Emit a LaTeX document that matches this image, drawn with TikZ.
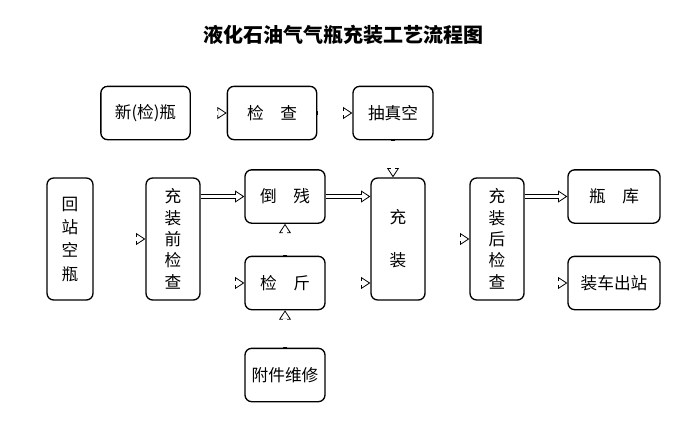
\documentclass[tikz,border=0pt]{standalone}
\usepackage{fontspec}
\newfontfamily\cjk{Noto Sans CJK SC}
\usetikzlibrary{arrows.meta}
\tikzset{
  box/.style={draw,line width=1pt,rounded corners=5pt,font=\cjk\fontsize{12.5}{14}\selectfont,inner sep=0pt,align=center},
  tipl/.style={line width=0.6pt,-{Triangle[open,length=7pt,width=9pt]}},
  outer/.style={line width=3.6pt,shorten >=6.6pt},
  inner/.style={white,line width=2.4pt,shorten >=6.3pt,shorten <=0.2pt}
}
\newcommand\darr[2]{\draw[outer] #1 -- #2; \draw[tipl] #1 -- #2; \draw[inner] #1 -- #2;}
\begin{document}
\begin{tikzpicture}[x=0.75pt,y=-0.75pt]
\useasboundingbox (0,0) rectangle (691,432);
\node[font=\cjk\bfseries\fontsize{15}{18}\selectfont] (title) at (343,35) {液化石油气气瓶充装工艺流程图};
\node[box,minimum width=67pt,minimum height=40pt] (nb) at (145.5,113) {新(检)瓶};
\node[box,minimum width=67pt,minimum height=40pt] (jc) at (272,113) {检\hspace{1em}查};
\node[box,minimum width=60pt,minimum height=40pt] (cz) at (393,113) {抽真空};
\node[box,minimum width=34.5pt,minimum height=91.5pt] (hz) at (70,239) {回\\[3.5pt]站\\[3.5pt]空\\[3.5pt]瓶};
\node[box,minimum width=40.5pt,minimum height=91.5pt] (pre) at (173,239) {充\\[2pt]装\\[2pt]前\\[2pt]检\\[2pt]查};
\node[box,minimum width=60pt,minimum height=40pt] (dc) at (285,196.5) {倒\hspace{1em}残};
\node[box,minimum width=60pt,minimum height=40pt] (jj) at (285,283) {检\hspace{1em}斤};
\node[box,minimum width=40.5pt,minimum height=91.5pt] (fill) at (398,239) {充\\[18pt]装};
\node[box,minimum width=40.5pt,minimum height=91.5pt] (post) at (497,239) {充\\[2pt]装\\[2pt]后\\[2pt]检\\[2pt]查};
\node[box,minimum width=69pt,minimum height=40pt] (pk) at (614,196.5) {瓶\hspace{1em}库};
\node[box,minimum width=69pt,minimum height=40pt] (zc) at (614,283) {装车出站};
\node[box,minimum width=60pt,minimum height=40pt] (fj) at (285,375) {附件维修};
\darr{(nb.east)}{(jc.west)}
\darr{(jc.east)}{(cz.west)}
\darr{(cz.south)}{(cz.south |- fill.north)}
\darr{(hz.east)}{(pre.west)}
\darr{(pre.east |- dc)}{(dc.west)}
\darr{(pre.east |- jj)}{(jj.west)}
\darr{(dc.east)}{(fill.west |- dc)}
\darr{(jj.east)}{(fill.west |- jj)}
\darr{(jj.north)}{(dc.south)}
\darr{(fj.north)}{(jj.south)}
\darr{(fill.east)}{(post.west)}
\darr{(post.east |- pk)}{(pk.west)}
\darr{(post.east |- zc)}{(zc.west)}
\end{tikzpicture}
\end{document}
